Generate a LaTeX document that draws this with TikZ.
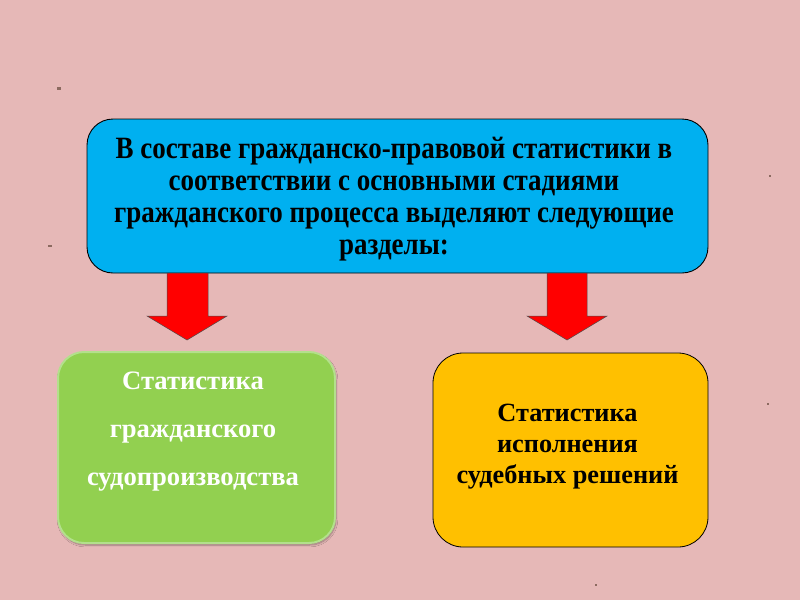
\documentclass[tikz,border=0pt]{standalone}
\usepackage{fontspec}
\setmainfont{Liberation Serif}
\newfontfamily\condserif[FakeStretch=0.87]{Liberation Serif}
\usetikzlibrary{shadows.blur}
\definecolor{bgpink}{HTML}{E6B8B7}
\definecolor{topblue}{HTML}{00B0F0}
\definecolor{boxgreen}{HTML}{92D050}
\definecolor{greenedge}{HTML}{B3E08C}
\definecolor{boxorange}{HTML}{FFC000}
\definecolor{arrowred}{HTML}{FF0000}
\definecolor{dotc}{HTML}{8C6A60}
\tikzset{
  topbox/.style={draw=black, line width=0.9pt, fill=topblue, rounded corners=26pt, minimum width=621pt, minimum height=154pt, align=center},
  greenbox/.style={draw=greenedge, line width=2pt, fill=boxgreen, rounded corners=26pt, minimum width=277pt, minimum height=191pt, align=center, blur shadow={shadow blur steps=6, shadow xshift=1pt, shadow yshift=-2pt, shadow opacity=35}},
  orangebox/.style={draw=black, line width=0.8pt, fill=boxorange, rounded corners=30pt, minimum width=275pt, minimum height=194pt, align=center},
  blockarrow/.style={draw=black!70, line width=0.5pt, fill=arrowred},
  speck/.style={fill=dotc, draw=none}
}
\begin{document}
\begin{tikzpicture}[x=1pt,y=-1pt]
\useasboundingbox (0,0) rectangle (800,600);
\fill[bgpink] (0,0) rectangle (800,600);
% specks
\fill[speck] (57,87) rectangle (61,90);
\fill[speck] (48,245) rectangle (52,247);
\fill[speck] (769,175) rectangle (771,177);
\fill[speck] (767,403) rectangle (769,405);
\fill[speck] (595,584) rectangle (597,586);
% top box
\node[topbox] (top) at (397.5,196) {};
\node[text=black, align=center, font=\condserif\bfseries\fontsize{31}{32}\selectfont] (toptext) at (394,199) {В составе гражданско-правовой статистики в\\соответствии с основными стадиями\\гражданского процесса выделяют следующие\\разделы:};
% arrows
\draw[blockarrow] (167,273) -- (208,273) -- (208,316) -- (227,316) -- (187,340) -- (147,316) -- (167,316) -- cycle;
\draw[blockarrow] (547,273) -- (587,273) -- (587,316) -- (607,316) -- (567,340) -- (527,316) -- (547,316) -- cycle;
% left box
\node[greenbox] (left) at (196.5,447.5) {};
\node[text=white, align=center, font=\bfseries\fontsize{26.6}{48}\selectfont] (lefttext) at (193,432) {Статистика\\гражданского\\судопроизводства};
% right box
\node[orangebox] (right) at (570.5,450) {};
\node[text=black, align=center, font=\bfseries\fontsize{26.3}{31}\selectfont] (righttext) at (567.5,447) {Статистика\\исполнения\\судебных решений};
\end{tikzpicture}
\end{document}
